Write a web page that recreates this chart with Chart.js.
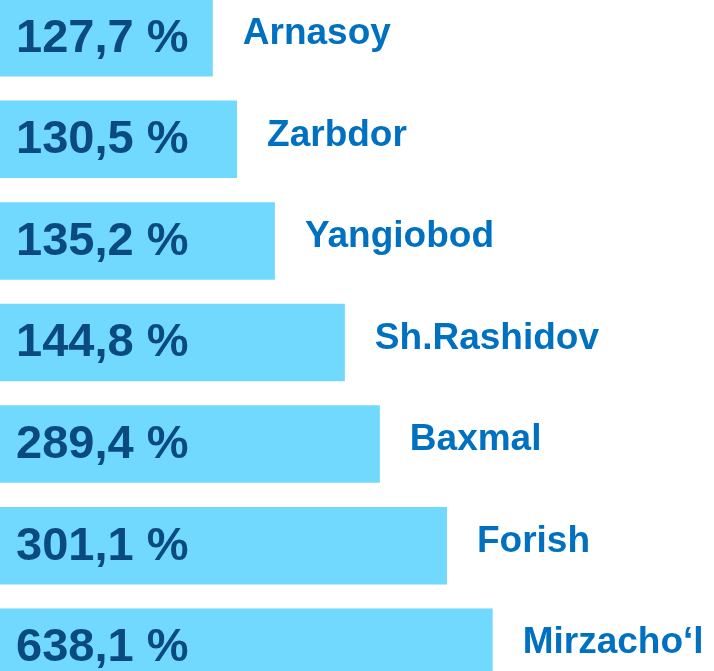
<!DOCTYPE html>
<html>
<head>
<meta charset="utf-8">
<script src="https://cdn.jsdelivr.net/npm/chart.js@4"></script>
<style>
  html, body { margin: 0; padding: 0; background: #fff; overflow: hidden; }
  #wrap { position: absolute; left: 0; top: -13px; width: 714px; height: 711px; }
</style>
</head>
<body>
<div id="wrap"><canvas id="chart"></canvas></div>
<script>
// districts, top to bottom
const districts = ["Arnasoy", "Zarbdor", "Yangiobod", "Sh.Rashidov", "Baxmal", "Forish", "Mirzacho‘l"];
// growth shown in each bar
const growthLabels = ["127,7 %", "130,5 %", "135,2 %", "144,8 %", "289,4 %", "301,1 %", "638,1 %"];
// bar length as drawn (share of the picture width, %), bars are not to scale
const barLengths = [29.8, 33.2, 38.5, 48.3, 53.2, 62.6, 69.0];

const barLabels = {
  id: "barLabels",
  afterDatasetsDraw(chart) {
    const ctx = chart.ctx;
    const meta = chart.getDatasetMeta(0);
    ctx.save();
    ctx.textBaseline = "middle";
    ctx.textAlign = "left";
    meta.data.forEach((bar, i) => {
      ctx.font = "bold 47px 'Liberation Sans', Arial, sans-serif";
      ctx.fillStyle = "#0b4a80";
      ctx.fillText(growthLabels[i], 16, bar.y + 1);

      ctx.font = "bold 37px 'Liberation Sans', Arial, sans-serif";
      ctx.fillStyle = "#0070c0";
      ctx.fillText(districts[i], bar.x + 30, bar.y - 4);
    });
    ctx.restore();
  },
};

new Chart(document.getElementById("chart"), {
  type: "bar",
  data: {
    labels: districts,
    datasets: [
      {
        data: barLengths,
        backgroundColor: "#70d9fd",
        borderWidth: 0,
        barPercentage: 0.763,
        categoryPercentage: 1,
      },
    ],
  },
  options: {
    indexAxis: "y",
    responsive: true,
    maintainAspectRatio: false,
    animation: false,
    layout: { padding: 0 },
    plugins: {
      legend: { display: false },
      tooltip: { enabled: false },
    },
    scales: {
      x: { min: 0, max: 100, display: false },
      y: { display: false },
    },
  },
  plugins: [barLabels],
});
</script>
</body>
</html>
